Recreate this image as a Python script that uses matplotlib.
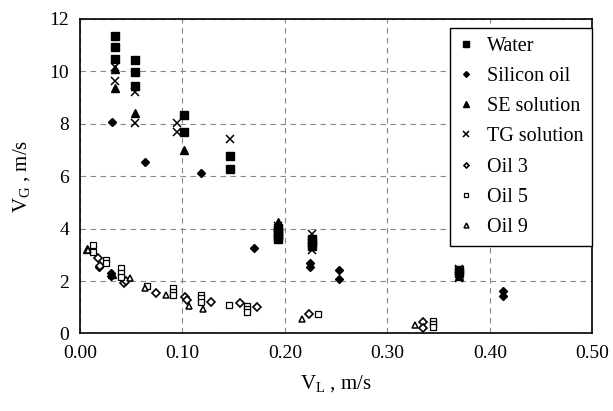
import matplotlib
matplotlib.use("Agg")
import matplotlib.pyplot as plt

plt.rcParams['font.family'] = ['Liberation Serif', 'DejaVu Serif']
plt.rcParams['mathtext.fontset'] = 'custom'
plt.rcParams['mathtext.rm'] = 'Liberation Serif'
plt.rcParams['mathtext.it'] = 'Liberation Serif:italic'

water_x = [0.034, 0.034, 0.034, 0.054, 0.054, 0.054, 0.101, 0.101, 0.146, 0.146,
           0.193, 0.193, 0.193, 0.193, 0.193, 0.226, 0.226, 0.226, 0.370, 0.370]
water_y = [11.35, 10.92, 10.46, 10.43, 9.97, 9.46, 8.33, 7.69, 6.77, 6.28,
           4.02, 3.90, 3.80, 3.70, 3.60, 3.62, 3.48, 3.35, 2.42, 2.30]

sil_x = [0.031, 0.063, 0.118, 0.170, 0.224, 0.224, 0.253, 0.253, 0.413, 0.413,
         0.030, 0.030, 0.019, 0.193]
sil_y = [8.06, 6.56, 6.11, 3.28, 2.70, 2.55, 2.42, 2.08, 1.64, 1.44,
         2.30, 2.20, 2.55, 4.10]

se_x = [0.034, 0.034, 0.054, 0.101, 0.193, 0.370, 0.007, 0.031]
se_y = [10.10, 9.38, 8.40, 7.00, 4.25, 2.20, 3.22, 2.26]

tg_x = [0.034, 0.034, 0.054, 0.054, 0.095, 0.095, 0.146, 0.193, 0.226, 0.226, 0.370, 0.370]
tg_y = [10.15, 9.62, 9.20, 8.02, 8.02, 7.67, 7.41, 4.10, 3.78, 3.20, 2.45, 2.10]

oil3_x = [0.0176, 0.020, 0.0426, 0.045, 0.0745, 0.102, 0.104, 0.128, 0.156, 0.173,
          0.223, 0.335, 0.335]
oil3_y = [2.87, 2.59, 1.92, 2.00, 1.53, 1.38, 1.27, 1.21, 1.18, 1.00,
          0.76, 0.42, 0.22]

oil5_x = [0.0127, 0.0127, 0.0257, 0.0257, 0.040, 0.040, 0.040, 0.065, 0.091, 0.091, 0.091,
          0.118, 0.118, 0.118, 0.145, 0.163, 0.163, 0.163, 0.232, 0.344, 0.344, 0.344]
oil5_y = [3.38, 3.12, 2.80, 2.70, 2.48, 2.32, 2.14, 1.83, 1.72, 1.58, 1.46,
          1.47, 1.34, 1.21, 1.09, 1.05, 0.93, 0.82, 0.74, 0.48, 0.36, 0.24]

oil9_x = [0.0078, 0.0485, 0.063, 0.084, 0.106, 0.120, 0.217, 0.327]
oil9_y = [3.19, 2.10, 1.72, 1.47, 1.05, 0.92, 0.54, 0.34]

fig = plt.figure(figsize=(6.13, 4.11), dpi=100)
ax = fig.add_axes([0.1305, 0.1886, 0.836, 0.7652])

ax.plot(water_x, water_y, 's', color='black', ms=5.2, ls='none', label='Water', zorder=3)
ax.plot(sil_x, sil_y, 'D', color='black', ms=4.2, ls='none', label='Silicon oil', zorder=3)
ax.plot(se_x, se_y, '^', color='black', ms=5.5, ls='none', label='SE solution', zorder=3)
ax.plot(tg_x, tg_y, 'x', color='black', ms=5.5, mew=1.1, ls='none', label='TG solution', zorder=3)
ax.plot(oil3_x, oil3_y, 'D', mfc='white', mec='black', mew=1.2, ms=3.6, ls='none', label='Oil 3', zorder=3)
ax.plot(oil5_x, oil5_y, 's', mfc='white', mec='black', mew=0.9, ms=5.0, ls='none', label='Oil 5', zorder=3)
ax.plot(oil9_x, oil9_y, '^', mfc='white', mec='black', mew=1.1, ms=5.0, ls='none', label='Oil 9', zorder=3)

ax.set_xlim(0, 0.5)
ax.set_ylim(0, 12)
ax.set_xticks([0.0, 0.1, 0.2, 0.3, 0.4, 0.5])
ax.set_xticklabels(['0.00', '0.10', '0.20', '0.30', '0.40', '0.50'])
ax.set_yticks([0, 2, 4, 6, 8, 10, 12])
ax.tick_params(length=0, labelsize=14, pad=8)
ax.grid(True, color='#888888', ls=(0, (5, 4)), lw=0.8)
for s in ax.spines.values():
    s.set_color('black')
    s.set_linewidth(1.2)

ax.set_xlabel(r'V$_\mathrm{L}$ , m/s', fontsize=15, labelpad=8)
ax.set_ylabel(r'V$_\mathrm{G}$ , m/s', fontsize=15, labelpad=12)

leg = ax.legend(loc='upper right', bbox_to_anchor=(1.0, 0.972), borderaxespad=0,
                fontsize=14.5, frameon=True, fancybox=False, edgecolor='black',
                framealpha=1, markerscale=0.7, handlelength=0.7, handletextpad=0.7,
                labelspacing=0.55, borderpad=0.45)
leg.get_frame().set_linewidth(1.0)

fig.savefig('out.png', dpi=100)
